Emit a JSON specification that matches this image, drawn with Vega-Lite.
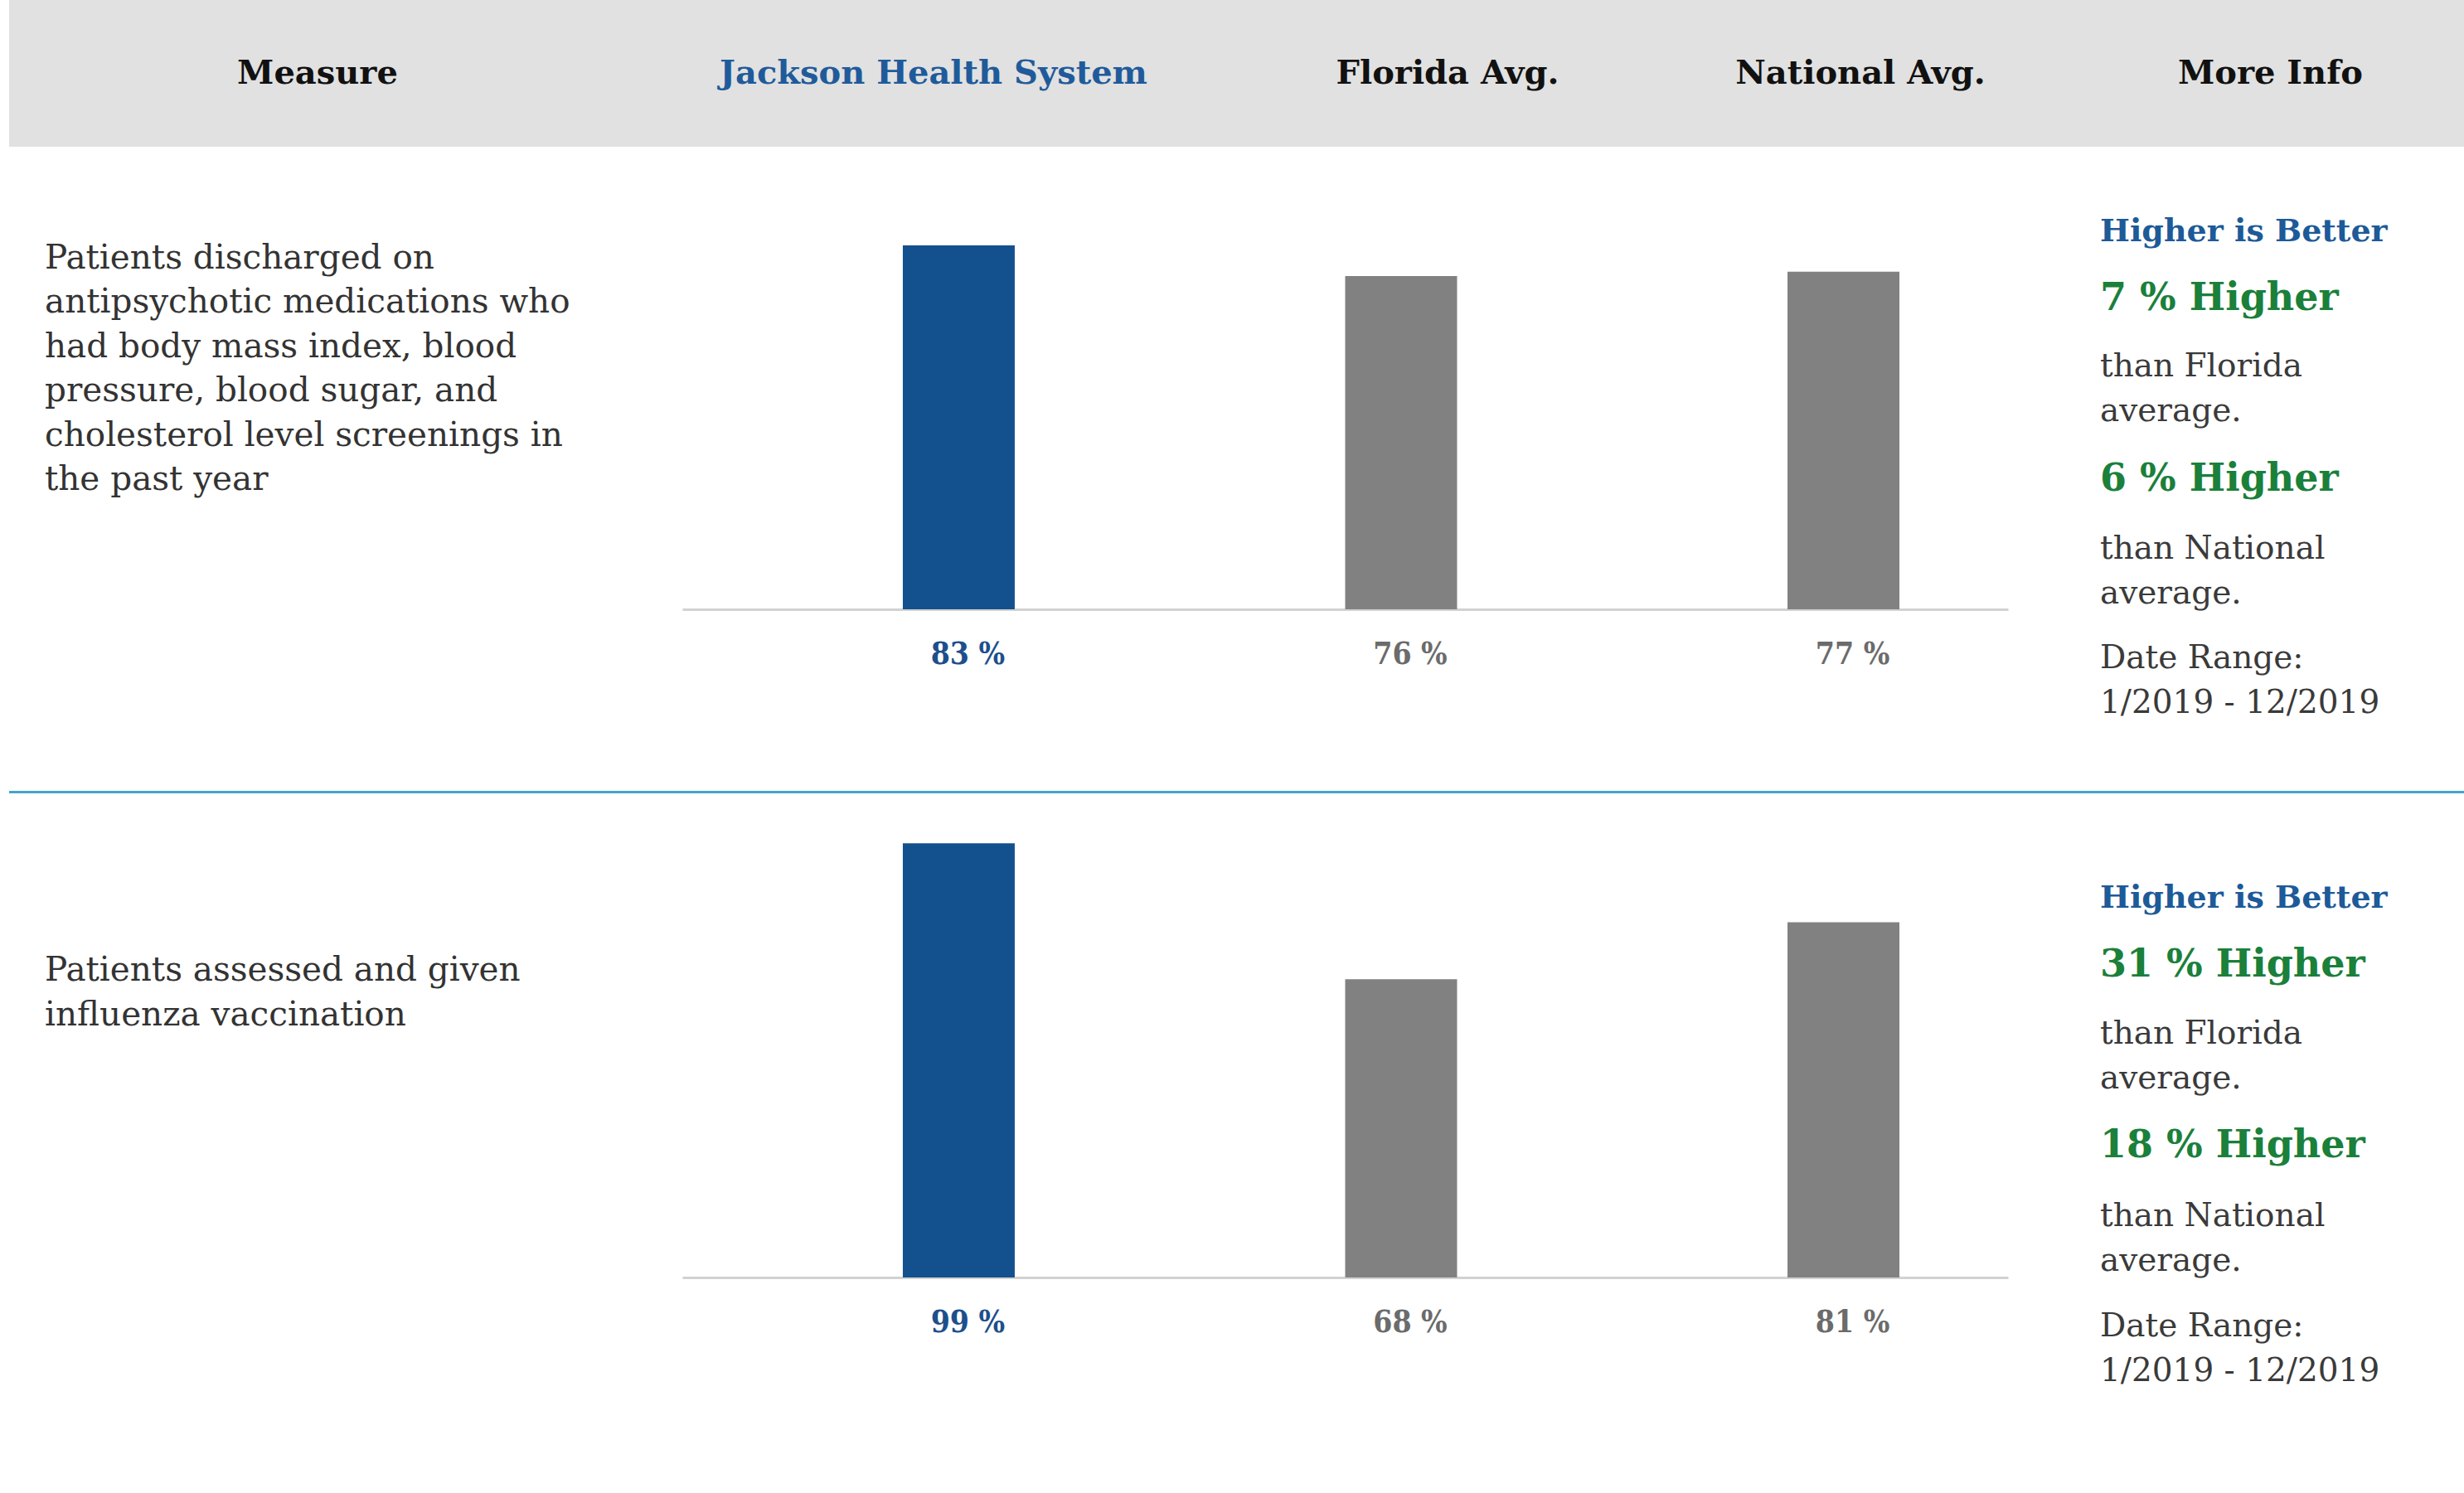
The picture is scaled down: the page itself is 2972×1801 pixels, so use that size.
{
  "$schema": "https://vega.github.io/schema/vega-lite/v6.json",
  "background": "white",
  "padding": {"left": 11, "top": 0, "right": 0, "bottom": 0},
  "spacing": 0,
  "config": {
    "view": {"stroke": null},
    "concat": {"spacing": 0},
    "font": "DejaVu Serif",
    "text": {"font": "DejaVu Serif"}
  },
  "datasets": {
    "headers": [
      {"col": "Measure"},
      {"col": "Jackson Health System"},
      {"col": "Florida Avg."},
      {"col": "National Avg."},
      {"col": "More Info"}
    ],
    "measures": [
      {"measure": "antipsychotic", "text": ["Patients discharged on", "antipsychotic medications who", "had body mass index, blood", "pressure, blood sugar, and", "cholesterol level screenings in", "the past year"]},
      {"measure": "influenza", "text": ["Patients assessed and given", "influenza vaccination"]}
    ],
    "bars": [
      {"measure": "antipsychotic", "group": "Jackson Health System", "value": 83, "label": "83 %"},
      {"measure": "antipsychotic", "group": "Florida Avg.", "value": 76, "label": "76 %"},
      {"measure": "antipsychotic", "group": "National Avg.", "value": 77, "label": "77 %"},
      {"measure": "influenza", "group": "Jackson Health System", "value": 99, "label": "99 %"},
      {"measure": "influenza", "group": "Florida Avg.", "value": 68, "label": "68 %"},
      {"measure": "influenza", "group": "National Avg.", "value": 81, "label": "81 %"}
    ],
    "info": [
      {"measure": "antipsychotic", "goal": "Higher is Better", "vsFlorida": "7 % Higher", "floridaNote": ["than Florida", "average."], "vsNational": "6 % Higher", "nationalNote": ["than National", "average."], "dates": ["Date Range:", "1/2019 - 12/2019"]},
      {"measure": "influenza", "goal": "Higher is Better", "vsFlorida": "31 % Higher", "floridaNote": ["than Florida", "average."], "vsNational": "18 % Higher", "nationalNote": ["than National", "average."], "dates": ["Date Range:", "1/2019 - 12/2019"]}
    ]
  },
  "vconcat": [
    {
      "spacing": 0,
      "hconcat": [
        {"width": 744, "height": 177, "view": {"fill": "#e1e1e1", "stroke": null},
         "data": {"name": "headers"}, "transform": [{"filter": "datum.col === 'Measure'"}],
         "mark": {"type": "text", "fontSize": 40, "fontWeight": "bold", "color": "#111111"},
         "encoding": {"text": {"field": "col"}}},
        {"width": 742, "height": 177, "view": {"fill": "#e1e1e1", "stroke": null},
         "data": {"name": "headers"}, "transform": [{"filter": "datum.col === 'Jackson Health System'"}],
         "mark": {"type": "text", "fontSize": 40, "fontWeight": "bold", "color": "#1f5b9b"},
         "encoding": {"text": {"field": "col"}}},
        {"width": 498, "height": 177, "view": {"fill": "#e1e1e1", "stroke": null},
         "data": {"name": "headers"}, "transform": [{"filter": "datum.col === 'Florida Avg.'"}],
         "mark": {"type": "text", "fontSize": 40, "fontWeight": "bold", "color": "#111111"},
         "encoding": {"text": {"field": "col"}}},
        {"width": 498, "height": 177, "view": {"fill": "#e1e1e1", "stroke": null},
         "data": {"name": "headers"}, "transform": [{"filter": "datum.col === 'National Avg.'"}],
         "mark": {"type": "text", "fontSize": 40, "fontWeight": "bold", "color": "#111111"},
         "encoding": {"text": {"field": "col"}}},
        {"width": 479, "height": 177, "view": {"fill": "#e1e1e1", "stroke": null},
         "data": {"name": "headers"}, "transform": [{"filter": "datum.col === 'More Info'"}],
         "mark": {"type": "text", "fontSize": 40, "fontWeight": "bold", "color": "#111111", "dx": 6},
         "encoding": {"text": {"field": "col"}}}
      ]
    },
    {
      "spacing": 0,
      "hconcat": [
        {"width": 812, "height": 777,
         "data": {"name": "measures"}, "transform": [{"filter": "datum.measure === 'antipsychotic'"}],
         "mark": {"type": "text", "fontSize": 40.5, "lineHeight": 53.5, "align": "left", "baseline": "top", "color": "#333333", "dx": -363, "dy": -274},
         "encoding": {"text": {"field": "text"}}},
        {"width": 1599, "height": 558,
         "data": {"name": "bars"}, "transform": [{"filter": "datum.measure === 'antipsychotic'"}],
         "encoding": {
           "x": {"field": "group", "type": "nominal", "sort": null,
                 "scale": {"domain": ["Jackson Health System", "Florida Avg.", "National Avg."], "paddingInner": 0.747, "paddingOuter": 0.372, "align": 0.67},
                 "axis": {"title": null, "labels": false, "ticks": false, "grid": false, "domainColor": "#d2d2d2", "domainWidth": 3}}
         },
         "layer": [
           {"mark": {"type": "bar"},
            "encoding": {
              "y": {"field": "value", "type": "quantitative", "scale": {"domain": [0, 105.5], "nice": false}, "axis": null},
              "color": {"condition": {"test": "datum.group === 'Jackson Health System'", "value": "#13508e"}, "value": "#818181"}
            }},
           {"mark": {"type": "text", "fontSize": 37, "fontWeight": "bold", "font": "DejaVu Serif Condensed, DejaVu Serif", "baseline": "middle", "dx": 11, "dy": 55},
            "encoding": {
              "y": {"datum": 0, "type": "quantitative"},
              "text": {"field": "label"},
              "color": {"condition": {"test": "datum.group === 'Jackson Health System'", "value": "#1d4f8c"}, "value": "#6b6b6b"}
            }}
         ]},
        {"width": 550, "height": 777,
         "data": {"name": "info"}, "transform": [{"filter": "datum.measure === 'antipsychotic'"}],
         "layer": [
           {"mark": {"type": "text", "fontSize": 38, "fontWeight": "bold", "align": "left", "baseline": "middle", "color": "#1d5a98", "dx": -164, "dy": -286},
            "encoding": {"text": {"field": "goal"}}},
           {"mark": {"type": "text", "fontSize": 46, "fontWeight": "bold", "align": "left", "baseline": "middle", "color": "#1a803a", "dx": -164, "dy": -206},
            "encoding": {"text": {"field": "vsFlorida"}}},
           {"mark": {"type": "text", "fontSize": 39, "lineHeight": 54, "align": "left", "baseline": "top", "color": "#3a3a3a", "dx": -164, "dy": -142.5},
            "encoding": {"text": {"field": "floridaNote"}}},
           {"mark": {"type": "text", "fontSize": 46, "fontWeight": "bold", "align": "left", "baseline": "middle", "color": "#1a803a", "dx": -164, "dy": 12},
            "encoding": {"text": {"field": "vsNational"}}},
           {"mark": {"type": "text", "fontSize": 39, "lineHeight": 54, "align": "left", "baseline": "top", "color": "#3a3a3a", "dx": -164, "dy": 77},
            "encoding": {"text": {"field": "nationalNote"}}},
           {"mark": {"type": "text", "fontSize": 39, "lineHeight": 54, "align": "left", "baseline": "top", "color": "#3a3a3a", "dx": -164, "dy": 209},
            "encoding": {"text": {"field": "dates"}}}
         ]}
      ]
    },
    {"width": 2961, "height": 3, "view": {"fill": "#46a3cd", "stroke": null},
     "data": {"values": [{"divider": ""}]},
     "mark": {"type": "text", "fontSize": 1},
     "encoding": {"text": {"field": "divider"}}},
    {
      "spacing": 0,
      "hconcat": [
        {"width": 812, "height": 844,
         "data": {"name": "measures"}, "transform": [{"filter": "datum.measure === 'influenza'"}],
         "mark": {"type": "text", "fontSize": 40.5, "lineHeight": 53.5, "align": "left", "baseline": "top", "color": "#333333", "dx": -363, "dy": -228},
         "encoding": {"text": {"field": "text"}}},
        {"width": 1599, "height": 584,
         "data": {"name": "bars"}, "transform": [{"filter": "datum.measure === 'influenza'"}],
         "encoding": {
           "x": {"field": "group", "type": "nominal", "sort": null,
                 "scale": {"domain": ["Jackson Health System", "Florida Avg.", "National Avg."], "paddingInner": 0.747, "paddingOuter": 0.372, "align": 0.67},
                 "axis": {"title": null, "labels": false, "ticks": false, "grid": false, "domainColor": "#d2d2d2", "domainWidth": 3}}
         },
         "layer": [
           {"mark": {"type": "bar"},
            "encoding": {
              "y": {"field": "value", "type": "quantitative", "scale": {"domain": [0, 110.4], "nice": false}, "axis": null},
              "color": {"condition": {"test": "datum.group === 'Jackson Health System'", "value": "#13508e"}, "value": "#818181"}
            }},
           {"mark": {"type": "text", "fontSize": 37, "fontWeight": "bold", "font": "DejaVu Serif Condensed, DejaVu Serif", "baseline": "middle", "dx": 11, "dy": 55},
            "encoding": {
              "y": {"datum": 0, "type": "quantitative"},
              "text": {"field": "label"},
              "color": {"condition": {"test": "datum.group === 'Jackson Health System'", "value": "#1d4f8c"}, "value": "#6b6b6b"}
            }}
         ]},
        {"width": 550, "height": 844,
         "data": {"name": "info"}, "transform": [{"filter": "datum.measure === 'influenza'"}],
         "layer": [
           {"mark": {"type": "text", "fontSize": 38, "fontWeight": "bold", "align": "left", "baseline": "middle", "color": "#1d5a98", "dx": -164, "dy": -295},
            "encoding": {"text": {"field": "goal"}}},
           {"mark": {"type": "text", "fontSize": 46, "fontWeight": "bold", "align": "left", "baseline": "middle", "color": "#1a803a", "dx": -164, "dy": -215},
            "encoding": {"text": {"field": "vsFlorida"}}},
           {"mark": {"type": "text", "fontSize": 39, "lineHeight": 54, "align": "left", "baseline": "top", "color": "#3a3a3a", "dx": -164, "dy": -151},
            "encoding": {"text": {"field": "floridaNote"}}},
           {"mark": {"type": "text", "fontSize": 46, "fontWeight": "bold", "align": "left", "baseline": "middle", "color": "#1a803a", "dx": -164, "dy": 3},
            "encoding": {"text": {"field": "vsNational"}}},
           {"mark": {"type": "text", "fontSize": 39, "lineHeight": 54, "align": "left", "baseline": "top", "color": "#3a3a3a", "dx": -164, "dy": 69},
            "encoding": {"text": {"field": "nationalNote"}}},
           {"mark": {"type": "text", "fontSize": 39, "lineHeight": 54, "align": "left", "baseline": "top", "color": "#3a3a3a", "dx": -164, "dy": 202},
            "encoding": {"text": {"field": "dates"}}}
         ]}
      ]
    }
  ]
}
